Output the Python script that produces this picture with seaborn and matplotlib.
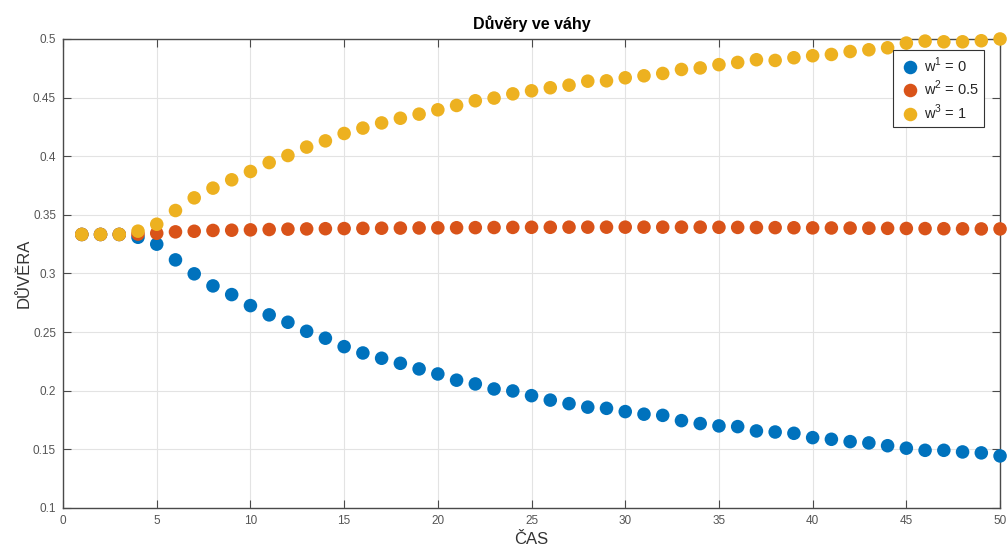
import numpy as np
import pandas as pd
import matplotlib
matplotlib.use("Agg")
import matplotlib.pyplot as plt
import seaborn as sns

# Time steps
cas = list(range(1, 51))

# Trust values for each weight setting
duvera_w1 = [0.3333, 0.3333, 0.3333, 0.3309, 0.3250, 0.3116, 0.2997, 0.2894, 0.2820, 0.2726,
             0.2647, 0.2584, 0.2507, 0.2448, 0.2376, 0.2322, 0.2277, 0.2234, 0.2186, 0.2143,
             0.2090, 0.2058, 0.2015, 0.1998, 0.1958, 0.1920, 0.1890, 0.1860, 0.1850, 0.1822,
             0.1800, 0.1790, 0.1745, 0.1720, 0.1700, 0.1694, 0.1657, 0.1648, 0.1637, 0.1600,
             0.1586, 0.1566, 0.1555, 0.1531, 0.1510, 0.1492, 0.1492, 0.1478, 0.1470, 0.1444]

duvera_w2 = [0.3333, 0.3333, 0.3333, 0.3336, 0.3343, 0.3355, 0.3360, 0.3367, 0.3369, 0.3372,
             0.3375, 0.3378, 0.3380, 0.3382, 0.3383, 0.3385, 0.3386, 0.3387, 0.3388, 0.3389,
             0.3390, 0.3391, 0.3392, 0.3393, 0.3394, 0.3394, 0.3395, 0.3395, 0.3395, 0.3395,
             0.3395, 0.3395, 0.3395, 0.3395, 0.3394, 0.3393, 0.3392, 0.3391, 0.3390, 0.3389,
             0.3388, 0.3387, 0.3386, 0.3385, 0.3384, 0.3383, 0.3382, 0.3381, 0.3380, 0.3380]

duvera_w3 = [0.3333, 0.3333, 0.3333, 0.3361, 0.3420, 0.3537, 0.3645, 0.3728, 0.3799, 0.3870,
             0.3946, 0.4006, 0.4078, 0.4131, 0.4194, 0.4240, 0.4284, 0.4324, 0.4359, 0.4396,
             0.4433, 0.4473, 0.4496, 0.4532, 0.4558, 0.4584, 0.4606, 0.4640, 0.4643, 0.4669,
             0.4686, 0.4706, 0.4740, 0.4753, 0.4781, 0.4800, 0.4823, 0.4817, 0.4840, 0.4857,
             0.4868, 0.4893, 0.4908, 0.4925, 0.4965, 0.4982, 0.4976, 0.4976, 0.4985, 0.5000]

series_labels = ["w$^1$ = 0", "w$^2$ = 0.5", "w$^3$ = 1"]
series_colors = ["#0072BD", "#D95319", "#EDB120"]

x_ticks = [0, 5, 10, 15, 20, 25, 30, 35, 40, 45, 50]
y_ticks = [0.1, 0.15, 0.2, 0.25, 0.3, 0.35, 0.4, 0.45, 0.5]
y_tick_labels = ["0.1", "0.15", "0.2", "0.25", "0.3", "0.35", "0.4", "0.45", "0.5"]

df = pd.DataFrame({
    "cas": cas * 3,
    "duvera": duvera_w1 + duvera_w2 + duvera_w3,
    "serie": [series_labels[0]] * len(cas) + [series_labels[1]] * len(cas) + [series_labels[2]] * len(cas),
})

sns.set_theme(style="white")
plt.rcParams["font.family"] = ["Liberation Sans", "DejaVu Sans"]
plt.rcParams["mathtext.fontset"] = "custom"
plt.rcParams["mathtext.rm"] = "Liberation Sans"

fig = plt.figure(figsize=(10.07, 5.49), dpi=100)
ax = fig.add_axes([0.0626, 0.0747, 0.9305, 0.8543])

sns.scatterplot(
    data=df, x="cas", y="duvera", hue="serie",
    hue_order=series_labels, palette=series_colors,
    s=95, linewidth=0, alpha=1.0, ax=ax, legend=True, zorder=3, clip_on=False,
)

ax.set_xlim(0, 50)
ax.set_ylim(0.1, 0.5)
ax.set_xticks(x_ticks)
ax.set_yticks(y_ticks)
ax.set_yticklabels(y_tick_labels)

ax.grid(True, color="#e3e3e3", linewidth=0.8, zorder=0)
ax.set_axisbelow(True)

for side in ["top", "right", "bottom", "left"]:
    ax.spines[side].set_visible(True)
    ax.spines[side].set_color("#4a4a4a")
    ax.spines[side].set_linewidth(1.0)
    ax.spines[side].set_zorder(2)

ax.tick_params(axis="both", which="both", direction="in", length=6, width=0.8,
               colors="#4a4a4a", labelcolor="#555555", labelsize=8.5,
               top=True, right=True, bottom=True, left=True, pad=5)

ax.set_xlabel("ČAS", fontsize=12, color="#333333", labelpad=4)
ax.set_ylabel("DŮVĚRA", fontsize=12, color="#333333", labelpad=1)
ax.set_title("Důvěry ve váhy", fontsize=11.5, fontweight="bold", color="black", pad=7)

handles, labels = ax.get_legend_handles_labels()
leg = ax.legend(handles, labels, loc="upper right", bbox_to_anchor=(0.988, 0.985),
                fontsize=10.5, frameon=True, fancybox=False, edgecolor="#333333",
                framealpha=1.0, handletextpad=0.2, borderpad=0.35, labelspacing=0.3,
                handlelength=1.6, borderaxespad=0.3, markerscale=1.0)
leg.get_frame().set_linewidth(0.8)
leg.set_zorder(5)

fig.savefig("out.png", dpi=100)
